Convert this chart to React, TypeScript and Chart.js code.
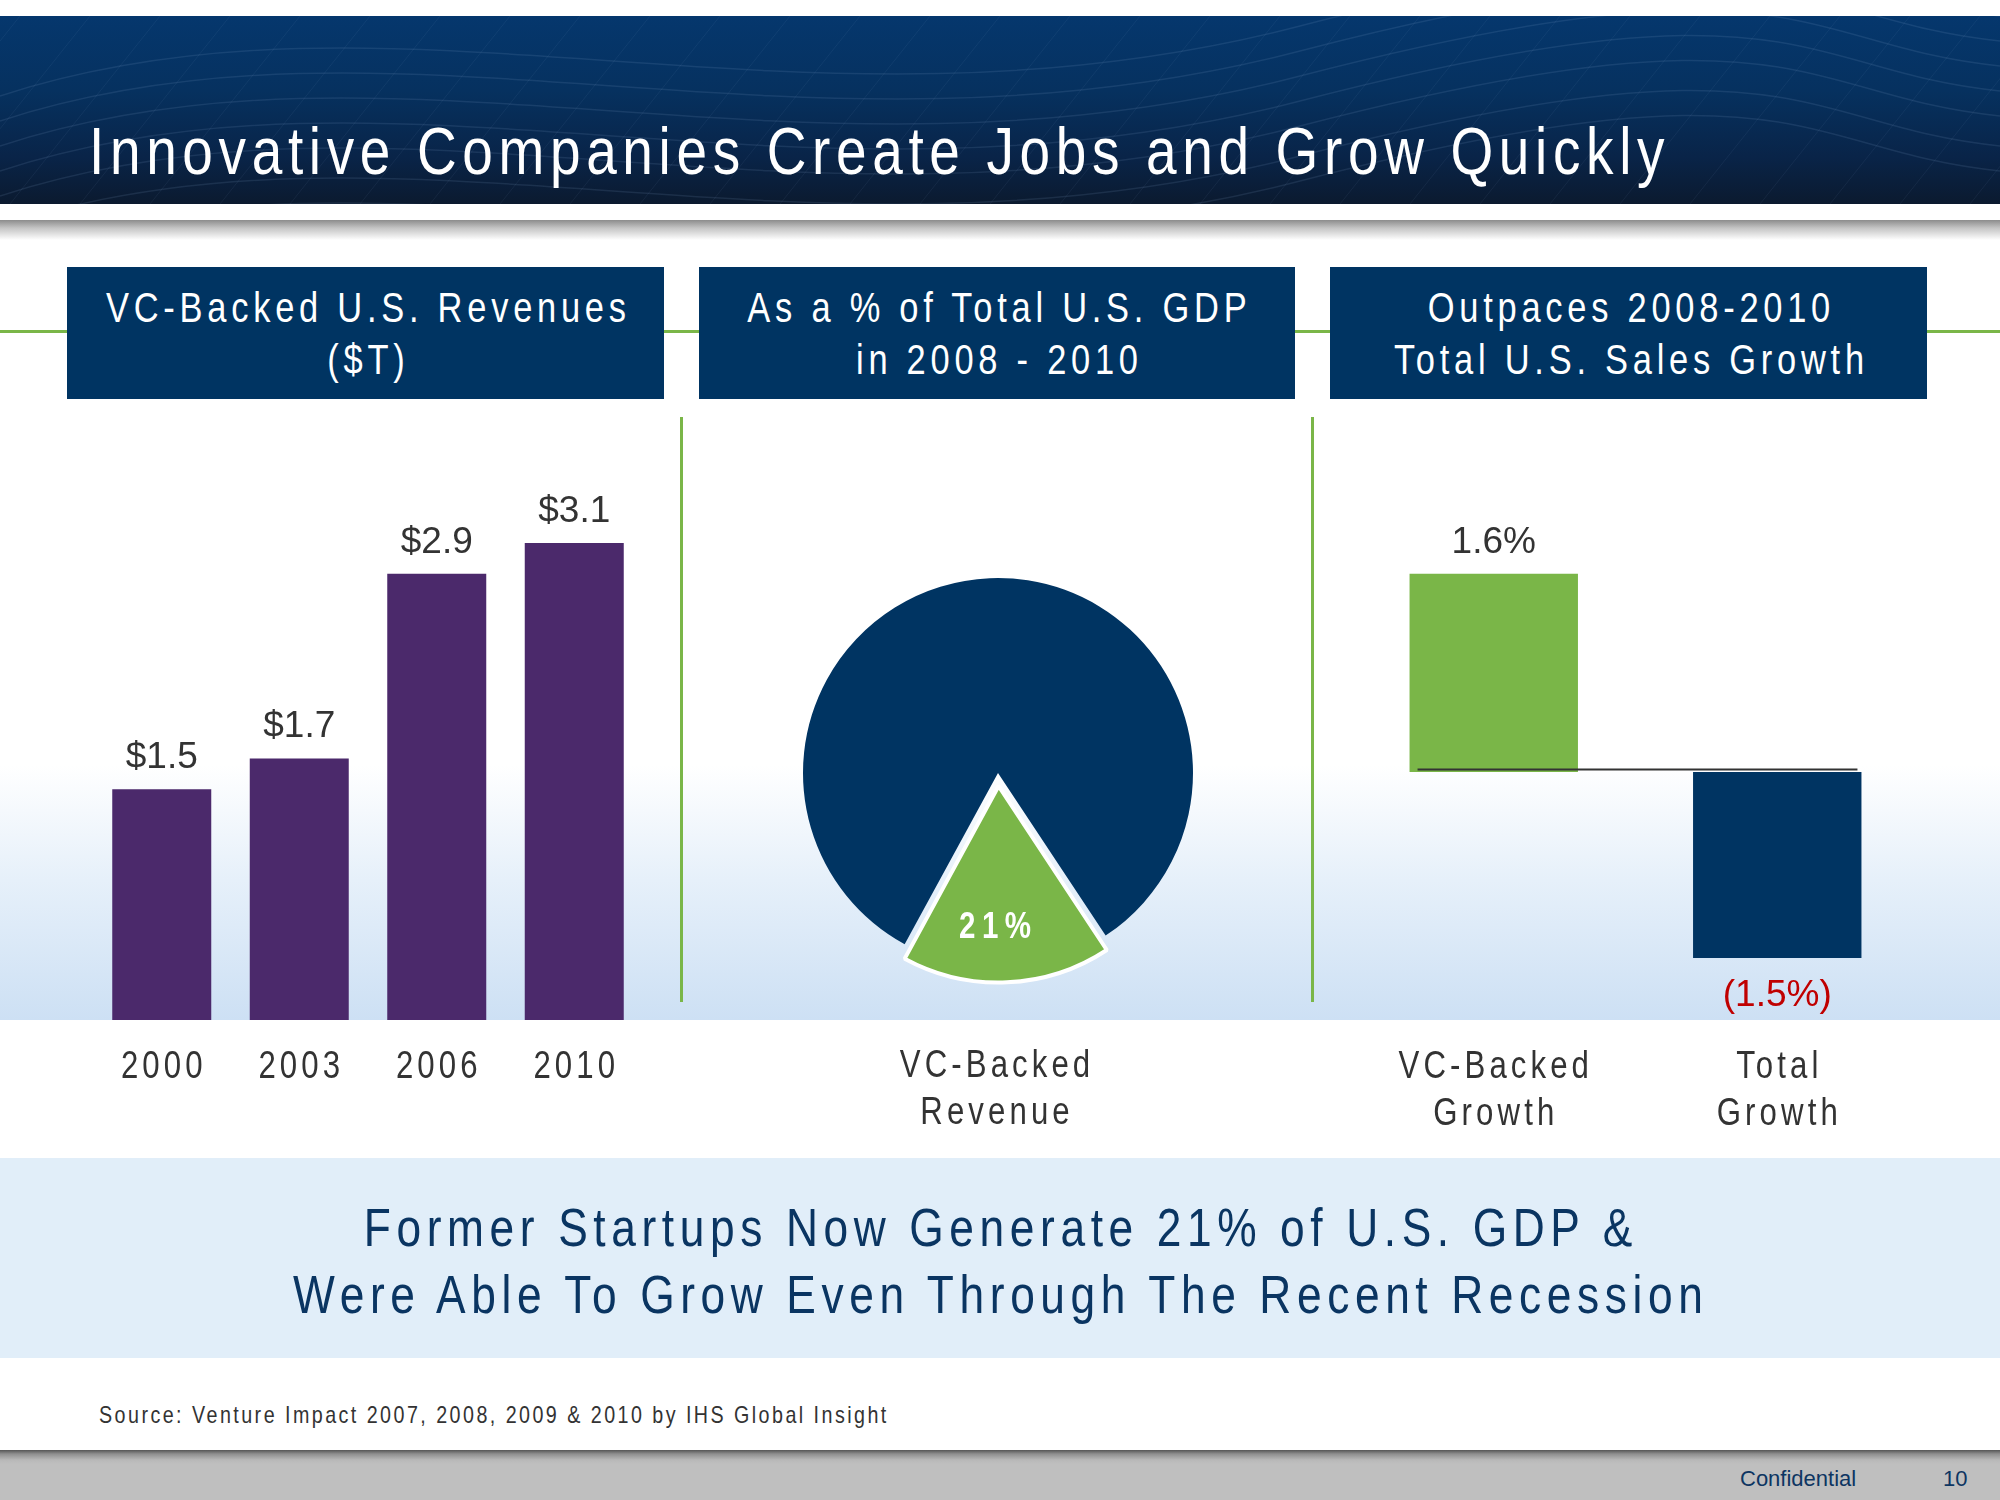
import React, { useEffect, useRef } from 'react';
import { Chart, registerables } from 'chart.js';

Chart.register(...registerables);

if (typeof document !== 'undefined') {
  document.body.style.margin = '0';
}

const SANS = "'Liberation Sans', Arial, sans-serif";
const NARROW_K = 0.82; // horizontal squeeze that imitates Arial Narrow

const NAVY = '#003462';
const PURPLE = '#4b296b';
const GREEN = '#7ab648';
const RED = '#c00000';
const TEXT_DARK = '#333333';

// ---- data ----
const revenueYears = ['2000', '2003', '2006', '2010'];
const revenueValues = [1.5, 1.7, 2.9, 3.1];
const revenueValueLabels = ['$1.5', '$1.7', '$2.9', '$3.1'];

const gdpSliceNames = ['VC-Backed Revenue', 'Rest of U.S. GDP'];
const gdpSliceShares = [17.25, 82.75]; // angular share of the slices as drawn
const gdpSliceLabels = ['21%'];
const gdpCategoryLabel = ['VC-Backed', 'Revenue'];

const growthCategories = [['VC-Backed', 'Growth'], ['Total', 'Growth']];
const growthValues = [1.6, -1.5];
const growthValueLabels = ['1.6%', '(1.5%)'];

const headerBoxTexts = [
  ['VC-Backed U.S. Revenues', '($T)'],
  ['As a % of Total U.S. GDP', 'in 2008 - 2010'],
  ['Outpaces 2008-2010', 'Total U.S. Sales Growth'],
];

const titleText = 'Innovative Companies Create Jobs and Grow Quickly';
const takeawayLines = ['Former Startups Now Generate 21% of U.S. GDP &', 'Were Able To Grow Even Through The Recent Recession'];
const sourceText = 'Source: Venture Impact 2007, 2008, 2009 & 2010 by IHS Global Insight';

// ---- plugins ----
const narrowTicksPlugin = (spacing: number) => ({
  id: 'narrowTicks',
  afterDraw(chart: any) {
    const xs = chart.scales.x;
    const ctx = chart.ctx;
    ctx.save();
    ctx.font = `38px ${SANS}`;
    ctx.fillStyle = TEXT_DARK;
    ctx.textAlign = 'center';
    ctx.textBaseline = 'alphabetic';
    (ctx as any).letterSpacing = spacing + 'px';
    (chart.data.labels as any[]).forEach((label: any, i: number) => {
      const lines = Array.isArray(label) ? label : [label];
      const x = xs.getPixelForTick(i);
      lines.forEach((line: string, j: number) => {
        ctx.save();
        ctx.translate(x, xs.top + 58 + j * 47);
        ctx.scale(NARROW_K, 1);
        ctx.fillText(line, spacing / 2, 0);
        ctx.restore();
      });
    });
    ctx.restore();
  },
});

const barValueLabels = (labels: string[]) => ({
  id: 'barValueLabels',
  afterDatasetsDraw(chart: any) {
    const ctx = chart.ctx;
    const ds = chart.data.datasets[0];
    const meta = chart.getDatasetMeta(0);
    ctx.save();
    ctx.font = `37px ${SANS}`;
    ctx.textAlign = 'center';
    ctx.textBaseline = 'alphabetic';
    meta.data.forEach((bar: any, i: number) => {
      const v = ds.data[i] as number;
      if (v >= 0) {
        ctx.fillStyle = TEXT_DARK;
        ctx.fillText(labels[i], bar.x, bar.y - 21);
      } else {
        ctx.fillStyle = RED;
        ctx.fillText(labels[i], bar.x, bar.y + 48);
      }
    });
    ctx.restore();
  },
});

const zeroLinePlugin = {
  id: 'zeroLine',
  afterDatasetsDraw(chart: any) {
    const ctx = chart.ctx;
    const meta = chart.getDatasetMeta(0);
    const first = meta.data[0];
    const last = meta.data[meta.data.length - 1];
    const y = chart.scales.y.getPixelForValue(0) - 2.5;
    ctx.save();
    ctx.strokeStyle = '#333333';
    ctx.lineWidth = 2;
    ctx.beginPath();
    ctx.moveTo(first.x - first.width / 2 + 8, y);
    ctx.lineTo(last.x + last.width / 2 - 4, y);
    ctx.stroke();
    ctx.restore();
  },
};

const pieLabelPlugin = {
  id: 'pieLabel',
  afterDatasetsDraw(chart: any) {
    const ctx = chart.ctx;
    const arc = chart.getDatasetMeta(0).data[0];
    const mid = (arc.startAngle + arc.endAngle) / 2;
    const d = 13 + arc.outerRadius * 0.73;
    const sp = 8;
    ctx.save();
    (ctx as any).letterSpacing = sp + 'px';
    ctx.font = `bold 36px ${SANS}`;
    ctx.fillStyle = '#ffffff';
    ctx.textAlign = 'center';
    ctx.textBaseline = 'middle';
    ctx.translate(arc.x - 3, arc.y + Math.sin(mid) * d);
    ctx.scale(NARROW_K, 1);
    ctx.fillText(gdpSliceLabels[0], sp / 2, 0);
    ctx.restore();
  },
};

const hiddenX = {
  grid: { display: false, drawTicks: false },
  border: { display: false },
  ticks: { display: false },
  afterFit: (s: any) => {
    s.height = 140;
  },
};

// ---- charts ----
function RevenueChart() {
  const ref = useRef<HTMLCanvasElement>(null);
  useEffect(() => {
    const chart = new Chart(ref.current!, {
      type: 'bar',
      data: {
        labels: revenueYears,
        datasets: [{ data: revenueValues, backgroundColor: PURPLE, barPercentage: 0.72, categoryPercentage: 1 }],
      },
      options: {
        animation: false,
        responsive: false,
        devicePixelRatio: 1,
        layout: { padding: 0 },
        plugins: { legend: { display: false }, tooltip: { enabled: false } },
        scales: {
          x: hiddenX,
          y: { display: false, min: 0, max: 3.9 },
        },
      },
      plugins: [narrowTicksPlugin(5), barValueLabels(revenueValueLabels)],
    } as any);
    return () => chart.destroy();
  }, []);
  return <canvas ref={ref} width={550} height={740} style={{ position: 'absolute', left: 93, top: 420 }} />;
}

function GdpPie() {
  const ref = useRef<HTMLCanvasElement>(null);
  useEffect(() => {
    const chart = new Chart(ref.current!, {
      type: 'pie',
      data: {
        labels: gdpSliceNames,
        datasets: [
          {
            data: gdpSliceShares,
            backgroundColor: [GREEN, NAVY],
            borderColor: '#ffffff',
            borderWidth: [4, 0],
            offset: [52, 0],
          },
        ],
      },
      options: {
        animation: false,
        responsive: false,
        devicePixelRatio: 1,
        rotation: 146.5,
        radius: 195,
        layout: { padding: 0 },
        plugins: { legend: { display: false }, tooltip: { enabled: false } },
      },
      plugins: [pieLabelPlugin],
    } as any);
    return () => chart.destroy();
  }, []);
  return <canvas ref={ref} width={440} height={440} style={{ position: 'absolute', left: 778, top: 553 }} />;
}

function GrowthChart() {
  const ref = useRef<HTMLCanvasElement>(null);
  useEffect(() => {
    const chart = new Chart(ref.current!, {
      type: 'bar',
      data: {
        labels: growthCategories,
        datasets: [{ data: growthValues, backgroundColor: [GREEN, NAVY], barPercentage: 0.594, categoryPercentage: 1 }],
      },
      options: {
        animation: false,
        responsive: false,
        devicePixelRatio: 1,
        layout: { padding: 0 },
        plugins: { legend: { display: false }, tooltip: { enabled: false } },
        scales: {
          x: hiddenX,
          y: { display: false, min: -2, max: 2.84 },
        },
      },
      plugins: [narrowTicksPlugin(5), zeroLinePlugin, barValueLabels(growthValueLabels)],
    } as any);
    return () => chart.destroy();
  }, []);
  return <canvas ref={ref} width={567} height={740} style={{ position: 'absolute', left: 1352, top: 420 }} />;
}

// ---- narrow text helper (HTML) ----
type NTextProps = {
  lines: string[];
  x: number; // left edge (align left) or centre (align center)
  top: number;
  size: number;
  lineHeight: number;
  spacing: number;
  color: string;
  align: 'left' | 'center';
  weight?: number;
};

function NText({ lines, x, top, size, lineHeight, spacing, color, align, weight }: NTextProps) {
  const W = 2000;
  const left = align === 'center' ? x - W / 2 : x;
  return (
    <div
      style={{
        position: 'absolute',
        left,
        top,
        width: W,
        textAlign: align,
        fontFamily: SANS,
        fontSize: size,
        fontWeight: weight || 400,
        lineHeight: lineHeight + 'px',
        letterSpacing: spacing + 'px',
        color,
        whiteSpace: 'nowrap',
      }}
    >
      {lines.map((t, j) => (
        <div
          key={j}
          style={{
            transform: `scaleX(${NARROW_K})`,
            transformOrigin: align === 'center' ? '50% 0' : '0 0',
            paddingLeft: align === 'center' ? spacing : 0,
          }}
        >
          {t}
        </div>
      ))}
    </div>
  );
}

// ---- decoration ----
const waveYs = [20, 45, 70, 95, 120, 150, 175];
const diagXs = Array.from({ length: 34 }, (_, i) => i * 70 - 200);

function Header() {
  return (
    <div
      style={{
        position: 'absolute',
        left: 0,
        top: 16,
        width: 2000,
        height: 188,
        overflow: 'hidden',
        background: 'linear-gradient(180deg, #05376d 0%, #06315f 40%, #092448 75%, #0b1a2f 100%)',
      }}
    >
      <svg width={2000} height={188} style={{ position: 'absolute', left: 0, top: 0 }}>
        {waveYs.map((y, i) => (
          <path
            key={'w' + i}
            d={`M0,${y + 60} C400,${y - 70} 800,${y + 120} 1300,${y - 10} S1800,${y - 40} 2000,${y - 20}`}
            stroke="rgba(150,180,220,0.13)"
            strokeWidth={1.5}
            fill="none"
          />
        ))}
        {diagXs.map((x, i) => (
          <line key={'d' + i} x1={x} y1={188} x2={x + 150} y2={0} stroke="rgba(150,180,220,0.08)" strokeWidth={1} />
        ))}
      </svg>
    </div>
  );
}

const boxes = [
  { left: 67, width: 597 },
  { left: 699, width: 596 },
  { left: 1330, width: 597 },
];

export default function App() {
  return (
    <div style={{ position: 'relative', width: 2000, height: 1500, background: '#ffffff', overflow: 'hidden' }}>
      <Header />
      <NText lines={[titleText]} x={89} top={117} size={67} lineHeight={67} spacing={6.9} color="#ffffff" align="left" />
      <div
        style={{
          position: 'absolute',
          left: 0,
          top: 220,
          width: 2000,
          height: 20,
          background: 'linear-gradient(180deg, #8c8c8c 0%, #c4c4c4 40%, #ffffff 100%)',
        }}
      />
      <div
        style={{
          position: 'absolute',
          left: 0,
          top: 765,
          width: 2000,
          height: 255,
          background: 'linear-gradient(180deg, #ffffff 0%, #e6f0fa 45%, #cde0f4 100%)',
        }}
      />
      <div style={{ position: 'absolute', left: 0, top: 330, width: 2000, height: 3, background: GREEN }} />
      {boxes.map((b, i) => (
        <div
          key={i}
          style={{ position: 'absolute', left: b.left, top: 267, width: b.width, height: 132, background: NAVY }}
        />
      ))}
      {boxes.map((b, i) => (
        <NText
          key={'t' + i}
          lines={headerBoxTexts[i]}
          x={b.left + b.width / 2}
          top={282}
          size={42}
          lineHeight={52}
          spacing={5.8}
          color="#ffffff"
          align="center"
        />
      ))}
      <div style={{ position: 'absolute', left: 680, top: 417, width: 3, height: 585, background: GREEN }} />
      <div style={{ position: 'absolute', left: 1311, top: 417, width: 3, height: 585, background: GREEN }} />

      <RevenueChart />
      <GdpPie />
      <GrowthChart />

      <NText
        lines={gdpCategoryLabel}
        x={995}
        top={1041}
        size={38}
        lineHeight={47}
        spacing={5}
        color={TEXT_DARK}
        align="center"
      />

      <div style={{ position: 'absolute', left: 0, top: 1158, width: 2000, height: 200, background: '#e1eef9' }} />
      <NText
        lines={takeawayLines}
        x={998}
        top={1194}
        size={54}
        lineHeight={67}
        spacing={6.85}
        color="#0a3562"
        align="center"
      />

      <NText lines={[sourceText]} x={99} top={1403} size={24} lineHeight={24} spacing={3} color={TEXT_DARK} align="left" />

      <div
        style={{
          position: 'absolute',
          left: 0,
          top: 1450,
          width: 2000,
          height: 50,
          background: 'linear-gradient(180deg, #555555 0px, #8f8f8f 4px, #b8b8b8 10px, #bfbfbf 14px, #bfbfbf 100%)',
        }}
      />
      <div
        style={{
          position: 'absolute',
          left: 1740,
          top: 1468,
          fontFamily: SANS,
          fontSize: 22,
          lineHeight: '22px',
          color: '#0d3562',
          whiteSpace: 'nowrap',
        }}
      >
        Confidential
      </div>
      <div
        style={{
          position: 'absolute',
          left: 1943,
          top: 1468,
          fontFamily: SANS,
          fontSize: 22,
          lineHeight: '22px',
          color: '#0d3562',
          whiteSpace: 'nowrap',
        }}
      >
        10
      </div>
    </div>
  );
}
